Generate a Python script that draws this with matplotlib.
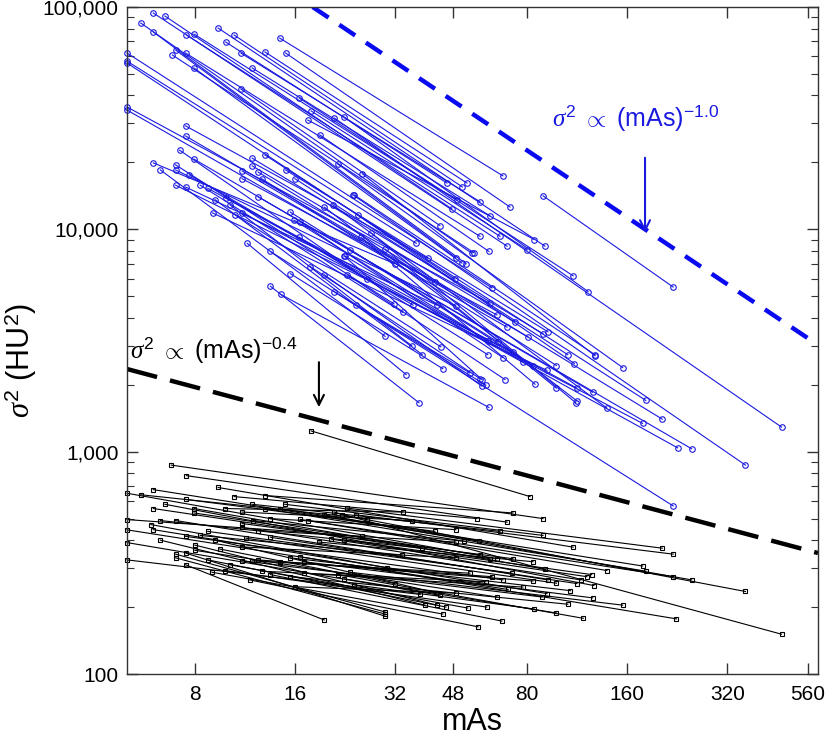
"""
Noise variance vs tube current-time product, paired scans (log-log)
"""
import matplotlib
matplotlib.use("Agg")
import matplotlib.pyplot as plt
from matplotlib.ticker import FixedLocator, FixedFormatter, LogLocator, NullFormatter

plt.rcParams['font.family'] = ['Liberation Sans', 'DejaVu Sans']
plt.rcParams['mathtext.fontset'] = 'custom'
plt.rcParams['mathtext.rm'] = 'Liberation Sans'
plt.rcParams['mathtext.it'] = 'Liberation Serif:italic'

# blue series: pixel variance (circles), one segment per patient
blue_mas_lo = [89.3, 14.4, 15.0, 13.0, 10.5, 9.4, 9.9, 11.0, 22.5, 11.9,
               21.0, 16.5, 17.9, 7.95, 6.5, 7.55, 6.0, 17.5, 19.0, 11.0,
               7.5, 5.5, 6.0, 7.0, 25.5, 7.95, 21.5, 6.85, 5.0, 5.0,
               5.0, 13.0, 15.0, 16.0, 11.9, 11.9, 12.4, 7.5, 12.7, 11.1,
               7.5, 11.1, 5.0, 12.4, 5.0, 7.95, 9.9, 8.75, 11.1, 7.0,
               6.0, 7.5, 7.0, 9.05, 13.5, 11.5, 14.5, 13.5, 15.5, 17.8,
               16.5, 19.6, 21.0, 22.6, 23.0, 24.5, 23.4, 24.7, 24.1, 20.8,
               19.6, 15.5, 15.9, 16.6, 23.9, 25.3, 27.1, 29.9, 22.5, 7.0,
               7.7, 8.3, 9.2, 10.6, 6.3, 10.2, 7.2]
blue_var_lo = [14150, 72500, 62100, 62800, 74800, 80400, 69600, 62100, 32000, 53200,
               31700, 38900, 34100, 75600, 91100, 74800, 94000, 31000, 26600, 42800,
               62100, 84700, 77200, 64100, 17800, 53200, 19700, 60800, 62100, 57100,
               56000, 21600, 18500, 16900, 20900, 19300, 18100, 29200, 16900, 18300,
               26300, 16900, 35500, 14000, 34400, 20700, 13900, 15300, 11850, 18500,
               19900, 15500, 15800, 11850, 7950, 8650, 5100, 5550, 6320, 6800,
               9200, 6250, 5250, 7600, 6250, 4560, 8100, 11600, 14300, 12900,
               12600, 11950, 11000, 10800, 14300, 9200, 9650, 8150, 7600, 19500,
               17600, 15800, 13600, 11600, 18500, 12900, 22700]
blue_mas_hi = [220, 67.6, 71.0, 52.7, 51.1, 90.5, 45.9, 57.7, 122, 61.8,
               466, 110, 80, 49.2, 47.5, 66.3, 69.6, 84, 61.4, 43.7,
               57.7, 54.5, 52.4, 48.8, 128, 50.9, 155, 55.3, 62.7, 37.1,
               48.5, 182, 92.4, 106, 89.3, 73.5, 204, 40.2, 98, 80.5,
               42.2, 64.9, 61.8, 250, 69.6, 126, 113, 227, 178, 48.8,
               32.0, 42.8, 72.5, 91.8, 220, 34.6, 61.4, 37.8, 44.6, 57.7,
               60.9, 58.5, 60.1, 77.7, 68.6, 53.8, 83.3, 111, 128, 139,
               113, 65.4, 61.0, 67.6, 363, 84.5, 112, 98, 58.5, 31.8,
               36.3, 33.8, 38.7, 44.0, 29.9, 36.0, 26.3]
blue_var_hi = [5500, 17400, 12600, 16150, 15500, 8400, 16150, 13300, 5250, 11500,
               1290, 6180, 8100, 13500, 12350, 9300, 8400, 9000, 7950, 10400,
               9300, 7800, 7000, 7450, 2700, 7050, 2390, 7850, 5450, 8650,
               5970, 1700, 3460, 2730, 3390, 3830, 1400, 7400, 2440, 3280,
               5820, 4120, 4650, 1030, 3630, 1850, 1930, 1040, 1340, 4520,
               7000, 4560, 2810, 2320, 570, 2220, 1580, 1660, 2360, 2130,
               2730, 1970, 1990, 2530, 2110, 2260, 2440, 2490, 2730, 1570,
               1690, 3110, 3150, 2650, 870, 2010, 1660, 1930, 2110, 4620,
               4560, 4230, 2730, 2960, 3300, 2990, 5970]

# black series: second measure (squares)
black_mas_lo = [17.9, 21.0, 22.9, 24.4, 22.1, 6.8, 13.0, 19.6, 7.55, 14.9,
                9.4, 14.4, 10.5, 16.6, 11.9, 13.0, 17.5, 13.5, 22.5, 20.6,
                11.1, 9.85, 6.0, 7.5, 12.0, 18.9, 11.1, 7.95, 12.4, 5.5,
                11.1, 5.0, 6.5, 7.95, 13.5, 6.0, 11.4, 7.0, 16.6, 23.4,
                8.75, 15.5, 17.0, 21.5, 11.1, 22.5, 14.4, 24.1, 5.0, 7.5,
                12.4, 17.0, 6.0, 11.9, 11.1, 15.5, 12.7, 5.0, 8.0, 7.5,
                16.0, 7.0, 9.85, 5.0, 7.0, 9.0, 7.5, 5.0, 10.2, 8.75,
                8.0, 6.3, 11.7, 13.5, 6.3, 8.3, 9.5, 5.9, 9.2]
black_var_lo = [1240, 535, 558, 520, 520, 870, 635, 520, 780, 580,
                690, 555, 628, 496, 580, 555, 490, 500, 400, 404,
                535, 555, 675, 610, 490, 392, 475, 555, 442, 640,
                456, 650, 580, 530, 412, 555, 408, 490, 337, 287,
                438, 333, 320, 280, 373, 268, 320, 252, 495, 416,
                326, 284, 446, 323, 323, 274, 290, 445, 360, 350,
                247, 346, 292, 390, 333, 287, 310, 326, 310, 326,
                380, 400, 265, 280, 490, 420, 365, 470, 400]
black_mas_hi = [81.6, 466, 204, 220, 363, 89.3, 72.5, 250, 69.6, 89.3,
                110, 178, 56.5, 220, 66.3, 182, 139, 48.8, 125, 121,
                35.9, 33.8, 57.3, 42.2, 51.5, 83.3, 72.5, 90.5, 48.8, 26.4,
                116, 64.9, 127, 57.7, 113, 61.8, 98, 92.4, 225, 155,
                72.0, 108, 126, 118, 48.8, 98, 83.3, 84, 25.5, 67.6,
                62.7, 77.7, 91.8, 53.8, 88.6, 106, 60.1, 70.1, 64.9, 29.9,
                48.8, 29.9, 60.5, 43.7, 29.9, 44.6, 19.6, 38.1, 53.0, 45.6,
                42.8, 39.4, 56.9, 67.1, 38.7, 33.6, 32.0, 30.3, 42.5]
black_var_hi = [628, 151, 368, 346, 235, 500, 530, 265, 482, 420,
                372, 306, 500, 274, 438, 290, 292, 446, 280, 274,
                490, 535, 396, 438, 396, 320, 330, 296, 392, 500,
                265, 330, 250, 343, 255, 330, 256, 265, 177, 204,
                284, 237, 220, 178, 333, 188, 262, 196, 416, 265,
                274, 246, 230, 284, 222, 206, 260, 240, 222, 182,
                231, 190, 200, 226, 186, 186, 175, 228, 198, 200,
                204, 204, 163, 173, 368, 343, 255, 300, 232]

# reference power-law guides (end points)
guide_blue_x = [18.1, 600]
guide_blue_y = [100000, 3020]
guide_black_x = [5, 600]
guide_black_y = [2354, 350]

x_ticks = [8, 16, 32, 48, 80, 160, 320, 560]
x_tick_labels = ['8', '16', '32', '48', '80', '160', '320', '560']
y_ticks = [100, 1000, 10000, 100000]
y_tick_labels = ['100', '1,000', '10,000', '100,000']

fig = plt.figure(figsize=(8.26, 7.42), dpi=100)
ax = fig.add_axes([127 / 826, 1 - 674 / 742, 691 / 826, 667 / 742])
ax.set_xscale('log')
ax.set_yscale('log')

for x1, x2, y1, y2 in zip(blue_mas_lo, blue_mas_hi, blue_var_lo, blue_var_hi, strict=True):
    ax.plot([x1, x2], [y1, y2], '-o', color='#1a1ae0', linewidth=0.8,
            markersize=4, markerfacecolor='none', markeredgewidth=0.8, clip_on=False)

for x1, x2, y1, y2 in zip(black_mas_lo, black_mas_hi, black_var_lo, black_var_hi, strict=True):
    ax.plot([x1, x2], [y1, y2], '-s', color='black', linewidth=0.8,
            markersize=3.5, markerfacecolor='none', markeredgewidth=0.8, clip_on=False)

ax.plot(guide_blue_x, guide_blue_y, color='#0a0af0', linewidth=3.2,
        dashes=(4.3, 2.9), dash_capstyle='butt')
ax.plot(guide_black_x, guide_black_y, color='black', linewidth=3.2,
        dashes=(7.0, 3.0), dash_capstyle='butt')

ax.text(95, 31700, r'$\sigma^2$ $\propto$ (mAs)$^{\mathregular{-1.0}}$', color='#1a1ae0',
        fontsize=18, va='center', ha='left')
ax.annotate('', xy=(181, 9400), xytext=(181, 21600),
            arrowprops=dict(arrowstyle='->', color='#1a1ae0', lw=1.5, mutation_scale=18))

ax.text(5.1, 2860, r'$\sigma^2$ $\propto$ (mAs)$^{\mathregular{-0.4}}$', color='black',
        fontsize=18, va='center', ha='left')
ax.annotate('', xy=(18.9, 1540), xytext=(18.9, 2600),
            arrowprops=dict(arrowstyle='->', color='black', lw=1.5, mutation_scale=18))

ax.set_xlim(5, 600)
ax.set_ylim(100, 100000)

ax.xaxis.set_major_locator(FixedLocator(x_ticks))
ax.xaxis.set_major_formatter(FixedFormatter(x_tick_labels))
ax.xaxis.set_minor_locator(FixedLocator([]))
ax.yaxis.set_major_locator(FixedLocator(y_ticks))
ax.yaxis.set_major_formatter(FixedFormatter(y_tick_labels))
ax.yaxis.set_minor_locator(LogLocator(base=10, subs=range(2, 10)))
ax.yaxis.set_minor_formatter(NullFormatter())

ax.tick_params(which='both', direction='in', top=True, right=True, labelsize=15,
               color='#333333')
ax.tick_params(which='major', length=8, width=1)
ax.tick_params(which='minor', length=5, width=0.8)
ax.tick_params(axis='x', pad=8)
ax.tick_params(axis='y', pad=6)
for spine in ax.spines.values():
    spine.set_color('#333333')
    spine.set_linewidth(1.0)

ax.set_xlabel('mAs', fontsize=22, labelpad=2)
ax.set_ylabel(r'$\sigma^2$ (HU$^{\mathregular{2}}$)', fontsize=22)
ax.yaxis.set_label_coords(-0.128, 0.47)

fig.savefig('out.png', dpi=100)
